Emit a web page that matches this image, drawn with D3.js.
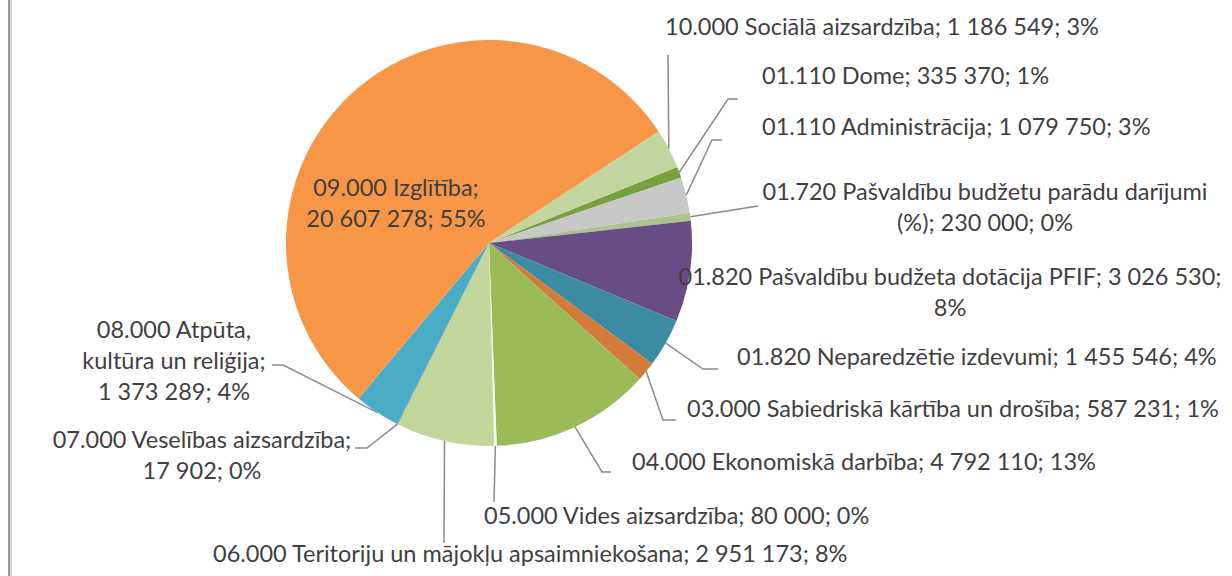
<!DOCTYPE html>
<html>
<head>
<meta charset="utf-8">
<script src="https://cdn.jsdelivr.net/npm/d3@7"></script>
<style>
  html, body { margin: 0; padding: 0; background: #fff; }
  #chart { width: 1232px; height: 576px; }
</style>
</head>
<body>
<div id="chart"></div>
<script>
// Budget expenditure by function — pie with outside labels
const categories = [
    "01.110 Dome",
    "01.110 Administrācija",
    "01.720 Pašvaldību budžetu parādu darījumi (%)",
    "01.820 Pašvaldību budžeta dotācija PFIF",
    "01.820 Neparedzētie izdevumi",
    "03.000 Sabiedriskā kārtība un drošība",
    "04.000 Ekonomiskā darbība",
    "05.000 Vides aizsardzība",
    "06.000 Teritoriju un mājokļu apsaimniekošana",
    "07.000 Veselības aizsardzība",
    "08.000 Atpūta, kultūra un reliģija",
    "09.000 Izglītība",
    "10.000 Sociālā aizsardzība"
];
const amounts = [335370, 1079750, 230000, 3026530, 1455546, 587231, 4792110,
                 80000, 2951173, 17902, 1373289, 20607278, 1186549];
// percentages as printed on the chart (Excel rounds them to sum 100)
const percents = [1, 3, 0, 8, 4, 1, 13, 0, 8, 0, 4, 55, 3];

const colors = ["#77a03e", "#c8c8c8", "#a9c48c", "#684c86", "#3b8ba4", "#d37b38",
                "#9bbb59", "#f4f6ef", "#c3d69b", "#4f81bd", "#4bacc6", "#f79646", "#c4d6a0"];

// label placement: anchor point, words per line, leader path (from label side)
const labelLayout = [
    { x: 762, y: 76,  anchor: "start",  lines: null,   leader: [[738, 99], [728, 99]] },
    { x: 762, y: 127, anchor: "start",  lines: null,   leader: [[722, 140], [712, 140]] },
    { x: 985, y: 192, anchor: "middle", lines: [5, 3], leader: [[758, 206]] },
    { x: 950, y: 277, anchor: "middle", lines: [6, 1], leader: null },
    { x: 737, y: 357, anchor: "start",  lines: null,   leader: [[718, 369], [703, 369]] },
    { x: 687, y: 409, anchor: "start",  lines: null,   leader: [[676, 420], [663, 420]] },
    { x: 632, y: 462, anchor: "start",  lines: null,   leader: [[611, 472], [602, 472]] },
    { x: 484, y: 516, anchor: "start",  lines: null,   leader: [[494, 502]] },
    { x: 213, y: 554, anchor: "start",  lines: null,   leader: [[444, 543]] },
    { x: 202, y: 440, anchor: "middle", lines: [3, 2], leader: [[355, 448], [367, 448]] },
    { x: 174, y: 330, anchor: "middle", lines: [2, 3, 2], leader: [[272, 365], [283, 365]] },
    { x: 396, y: 188, anchor: "middle", lines: [2, 2], leader: null },
    { x: 665, y: 27,  anchor: "start",  lines: null,   leader: [[668, 55]] }
];

const width = 1232, height = 576;
const cx = 489, cy = 243, radius = 203;
const lineH = 31;

const svg = d3.select("#chart").append("svg")
    .attr("width", width).attr("height", height)
    .style("font-family", "Lato, 'Open Sans', sans-serif");

// left frame edge
svg.append("rect").attr("x", 8).attr("y", 0).attr("width", 2).attr("height", height).attr("fill", "#9a9a9a");
svg.append("rect").attr("x", 10).attr("y", 0).attr("width", 2).attr("height", height).attr("fill", "#d4d4d4");

const data = categories.map((c, i) => ({ name: c, value: amounts[i], pct: percents[i], i }));

const startAngle = 68 * Math.PI / 180;
const pie = d3.pie().value(d => d.value).sort(null)
    .startAngle(startAngle).endAngle(startAngle + 2 * Math.PI);
const arcs = pie(data);

const arc = d3.arc().innerRadius(0).outerRadius(radius);

const g = svg.append("g").attr("transform", `translate(${cx},${cy})`);
g.selectAll("path.slice")
    .data(arcs).join("path").attr("class", "slice")
    .attr("d", arc)
    .attr("fill", d => colors[d.data.i]);

const fmt = v => d3.format(",")(v).replace(/,/g, "\u00a0");

// leader lines
const leaders = svg.append("g");
arcs.forEach(a => {
    const L = labelLayout[a.data.i];
    if (!L.leader) return;
    const mid = (a.startAngle + a.endAngle) / 2;
    const p = [cx + Math.sin(mid) * radius, cy - Math.cos(mid) * radius];
    const path = [p].concat(L.leader.slice().reverse());
    leaders.append("path")
        .attr("d", d3.line()(path))
        .attr("fill", "none")
        .attr("stroke", "#8c8c8c")
        .attr("stroke-width", 1.5);
});

// labels
const labels = svg.append("g")
    .style("font-size", "23.5px")
    .style("fill", "#3f3f3f");
data.forEach(d => {
    const L = labelLayout[d.i];
    const full = `${d.name}; ${fmt(d.value)}; ${d.pct}%`;
    let rows = [full];
    if (L.lines) {
        const words = full.split(" ");
        rows = [];
        let k = 0;
        L.lines.forEach(n => { rows.push(words.slice(k, k + n).join(" ")); k += n; });
    }
    const t = labels.append("text")
        .attr("text-anchor", L.anchor);
    rows.forEach((r, j) => {
        t.append("tspan")
            .attr("x", L.x)
            .attr("y", L.y + j * lineH)
            .attr("dy", "0.35em")
            .text(r);
    });
});
</script>
</body>
</html>
